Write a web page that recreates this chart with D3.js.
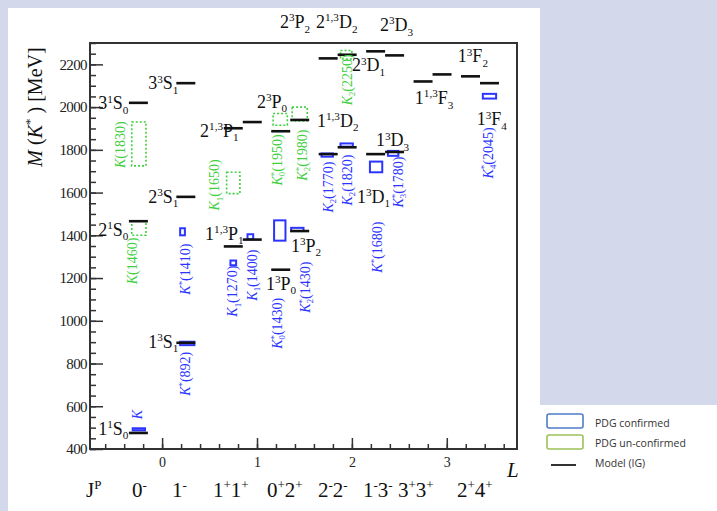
<!DOCTYPE html>
<html>
<head>
<meta charset="utf-8">
<title>K* spectrum</title>
<script src="https://d3js.org/d3.v7.min.js"></script>
<style>
  body { margin: 0; background: #d3d8eb; }
  svg { display: block; }
  text { font-family: "Liberation Serif", "DejaVu Serif", serif; }
  text.legend { font-family: "Open Sans", "Liberation Sans", sans-serif; }
</style>
</head>
<body>
<svg id="chart" width="717" height="511"></svg>
<script>
// model (IG) levels: orbital column L and mass in MeV
const modelL    = [-0.25,-0.25,-0.25, 0.25,0.25,0.25, 0.75,0.75, 0.95,0.95, 1.25,1.25, 1.45,1.45,
                   1.75,1.75, 1.95,1.95, 2.25,2.25, 2.45,2.45, 2.75, 2.95, 3.25, 3.45];
const modelMass = [475,1466,2020, 897,1580,2112, 1348,1901, 1380,1930, 1239,1887, 1420,1940,
                   1780,2228, 1812,2245, 1780,2261, 1790,2242, 2120, 2153, 2144, 2112];

// PDG states: name, column span in L, mass band, confirmed or not
const pdgName = ["K", "K(1460)", "K(1830)", "K^{*}(892)", "K^{*}(1410)", "K_{1}(1650)", "K_{1}(1270)",
                 "K_{1}(1400)", "K^{*}_{0}(1950)", "K^{*}_{2}(1980)", "K^{*}_{0}(1430)", "K^{*}_{2}(1430)",
                 "K_{2}(1770)", "K_{2}(1820)", "K_{2}(2250)", "K^{*}(1680)", "K^{*}_{3}(1780)", "K^{*}_{4}(2045)"];
const pdgL0   = [-0.31,-0.32,-0.32, 0.19, 0.19, 0.68, 0.72, 0.90, 1.17, 1.37, 1.18, 1.36, 1.68, 1.88, 1.88, 2.19, 2.38, 3.38];
const pdgL1   = [-0.18,-0.17,-0.17, 0.34, 0.24, 0.82, 0.78, 0.96, 1.32, 1.53, 1.30, 1.49, 1.80, 2.01, 2.00, 2.32, 2.49, 3.52];
const pdgLow  = [487, 1400, 1725, 886, 1400, 1595, 1260, 1382, 1915, 1935, 1375, 1420, 1768, 1815, 2225, 1695, 1772, 2040];
const pdgHigh = [497, 1466, 1930, 902, 1433, 1695, 1282, 1405, 1970, 2000, 1470, 1435, 1783, 1830, 2265, 1745, 1795, 2062];
const pdgConfirmed = [1,0,0,1,1,0,1,1,0,0,1,1,1,1,0,1,1,1];
// where each rotated PDG name sits (column L, mass at its top end)
const pdgTextL = [-0.263,-0.316,-0.442, 0.242, 0.242, 0.547, 0.737, 0.947, 1.21, 1.474, 1.21, 1.505, 1.747, 1.947, 1.947, 2.263, 2.484, 3.432];
const pdgTextM = [583, 1389, 1933, 855, 1361, 1755, 1258, 1333, 1872, 1895, 1108, 1277, 1745, 1778, 2247, 1464, 1769, 1905];

// spectroscopic labels
const specText = ["1^{1}S_{0}", "2^{1}S_{0}", "3^{1}S_{0}", "1^{3}S_{1}", "2^{3}S_{1}", "3^{3}S_{1}",
                  "2^{1,3}P_{1}", "1^{1,3}P_{1}", "2^{3}P_{0}", "1^{3}P_{2}", "1^{3}P_{0}", "2^{3}P_{2}",
                  "2^{1,3}D_{2}", "2^{3}D_{3}", "2^{3}D_{1}", "1^{1,3}D_{2}", "1^{3}D_{3}", "1^{3}D_{1}",
                  "1^{1,3}F_{3}", "1^{3}F_{2}", "1^{3}F_{4}"];
const specL = [-0.674,-0.674,-0.674, -0.147,-0.147,-0.147, 0.40, 0.453, 1.00, 1.358, 1.095, 1.242,
               1.621, 2.295, 2.00, 1.632, 2.253, 2.053, 2.663, 3.116, 3.316];
const specM = [466, 1398, 1989, 873, 1553, 2083, 1862, 1380, 1998, 1323, 1145, 2369,
               2369, 2355, 2167, 1909, 1816, 1553, 2013, 2209, 1914];

// J^P row under the axis
const jpText = ["J^{P}", "0^{-}", "1^{-}", "1^{+}1^{+}", "0^{+}2^{+}", "2^{-}2^{-}", "1^{-}3^{-}", "3^{+}3^{+}", "2^{+}4^{+}"];
const jpX    = [86, 132, 172, 213, 267, 318, 363, 398, 457];

const legendText = ["PDG confirmed", "PDG un-confirmed", "Model (IG)"];

const BLUE = "#2b35ff", GREEN = "#3fcf3f";

const svg = d3.select("#chart");

// writes text with ^{..} and _{..} pieces as tspans
function rich(sel, spec, size, italicFirst) {
  const tokens = spec.match(/\^\{[^}]*\}|_\{[^}]*\}|[^^_]+/g);
  let shift = 0, prev = "n";
  tokens.forEach(function(t, i) {
    let kind = "n", s = t;
    if (t[0] === "^") { kind = "sup"; s = t.slice(2, -1); }
    else if (t[0] === "_") { kind = "sub"; s = t.slice(2, -1); }
    const target = kind === "sup" ? -0.38 * size : kind === "sub" ? 0.25 * size : 0;
    if (i === 0 && italicFirst && kind === "n") {
      sel.append("tspan").attr("font-style", "italic").attr("font-size", size).text(s[0]);
      s = s.slice(1);
      if (!s) { prev = "n"; return; }
    }
    const ts = sel.append("tspan")
      .attr("dy", target - shift)
      .attr("font-size", kind === "n" ? size : size * 0.62)
      .text(s);
    if (kind === "sub" && prev === "sup") ts.attr("dx", -0.3 * size);
    shift = target;
    prev = kind;
  });
}

// backgrounds
svg.append("rect").attr("width", 717).attr("height", 511).attr("fill", "#d3d8eb");
svg.append("rect").attr("x", 8).attr("y", 8).attr("width", 532).attr("height", 503).attr("fill", "#fff");
svg.append("rect").attr("x", 540).attr("y", 405).attr("width", 177).attr("height", 106).attr("fill", "#fff");

const pLeft = 90, pRight = 517, pTop = 43, pBottom = 449;
const x = d3.scaleLinear().domain([-0.76, 3.74]).range([pLeft, pRight]);
const y = d3.scaleLinear().domain([400, 2300]).range([pBottom, pTop]);

// axes, ROOT style ticks inside
const yMajor = d3.range(400, 2201, 200), yMinor = d3.range(400, 2301, 50);
const xMajor = [0, 1, 2, 3], xMinor = d3.range(-0.6, 3.71, 0.2);

svg.append("g").attr("transform", "translate(" + pLeft + ",0)")
  .call(d3.axisLeft(y).tickValues(yMinor).tickSize(-6).tickFormat(""))
  .call(g => g.select(".domain").remove());
svg.append("g").attr("transform", "translate(" + pLeft + ",0)")
  .call(d3.axisLeft(y).tickValues(yMajor).tickSize(-13).tickPadding(3).tickFormat(d3.format("d")))
  .call(g => g.select(".domain").remove())
  .selectAll("text").attr("font-size", 15)
  .attr("letter-spacing", "-0.6px").attr("fill", "#222");

svg.append("g").attr("transform", "translate(0," + pBottom + ")")
  .call(d3.axisBottom(x).tickValues(xMinor).tickSize(-5).tickFormat(""))
  .call(g => g.select(".domain").remove());
svg.append("g").attr("transform", "translate(0," + pBottom + ")")
  .call(d3.axisBottom(x).tickValues(xMajor).tickSize(-11).tickPadding(8).tickFormat(d3.format("d")))
  .call(g => g.select(".domain").remove())
  .selectAll("text").attr("font-size", 14).attr("fill", "#222");

svg.selectAll(".tick line").attr("stroke", "#333").attr("stroke-width", 1.5);

svg.append("rect").attr("x", pLeft).attr("y", pTop).attr("width", pRight - pLeft).attr("height", pBottom - pTop)
  .attr("fill", "none").attr("stroke", "#333").attr("stroke-width", 2);

// PDG boxes
svg.append("g").selectAll("rect").data(pdgName).join("rect")
  .attr("x", (d, i) => x(pdgL0[i]))
  .attr("width", (d, i) => x(pdgL1[i]) - x(pdgL0[i]))
  .attr("y", (d, i) => y(pdgHigh[i]))
  .attr("height", (d, i) => y(pdgLow[i]) - y(pdgHigh[i]))
  .attr("fill", "none")
  .attr("stroke", (d, i) => pdgConfirmed[i] ? BLUE : GREEN)
  .attr("stroke-width", (d, i) => pdgConfirmed[i] ? 2 : 1.6)
  .attr("stroke-dasharray", (d, i) => pdgConfirmed[i] ? null : "2,2");

// model lines
svg.append("g").selectAll("line").data(modelMass).join("line")
  .attr("x1", (d, i) => x(modelL[i] - 0.1))
  .attr("x2", (d, i) => x(modelL[i] + 0.1))
  .attr("y1", d => y(d)).attr("y2", d => y(d))
  .attr("stroke", "#111").attr("stroke-width", 2.6);

// PDG names, rotated
pdgName.forEach(function(n, i) {
  const t = svg.append("text")
    .attr("transform", "translate(" + (x(pdgTextL[i]) + 5) + "," + y(pdgTextM[i]) + ") rotate(-90)")
    .attr("text-anchor", "end")
    .attr("fill", pdgConfirmed[i] ? BLUE : GREEN);
  rich(t, n, 14, true);
});

// spectroscopic labels
specText.forEach(function(s, i) {
  const t = svg.append("text").attr("x", x(specL[i])).attr("y", y(specM[i])).attr("fill", "#111");
  rich(t, s, 18, false);
});

// axis titles
const yt = svg.append("text").attr("transform", "translate(42,107) rotate(-90)")
  .attr("text-anchor", "middle").attr("fill", "#111").attr("font-size", 20);
yt.append("tspan").attr("font-style", "italic").text("M");
yt.append("tspan").text(" (");
yt.append("tspan").attr("font-style", "italic").text("K");
yt.append("tspan").attr("font-size", 13).attr("dy", -8).text("*");
yt.append("tspan").attr("dy", 8).text(" ) [MeV]");

svg.append("text").attr("x", 507).attr("y", 477).attr("font-style", "italic")
  .attr("font-size", 21).attr("fill", "#111").text("L");

jpText.forEach(function(s, i) {
  const t = svg.append("text").attr("x", jpX[i]).attr("y", 497).attr("fill", "#111");
  rich(t, s, 21, false);
});

// legend
const lg = svg.append("g");
lg.append("rect").attr("x", 547).attr("y", 414).attr("width", 36).attr("height", 14).attr("rx", 2)
  .attr("fill", "#fff").attr("stroke", "#4e7cc6").attr("stroke-width", 1.6);
lg.append("rect").attr("x", 547).attr("y", 435).attr("width", 36).attr("height", 14).attr("rx", 2)
  .attr("fill", "#fff").attr("stroke", "#9cc25a").attr("stroke-width", 1.6);
lg.append("line").attr("x1", 551).attr("x2", 576).attr("y1", 465).attr("y2", 465)
  .attr("stroke", "#333").attr("stroke-width", 2);
lg.selectAll("text").data(legendText).join("text")
  .attr("class", "legend")
  .attr("x", 595).attr("y", (d, i) => 427 + i * 20)
  .attr("font-size", 10.5).attr("fill", "#333")
  .text(d => d);
</script>
</body>
</html>
